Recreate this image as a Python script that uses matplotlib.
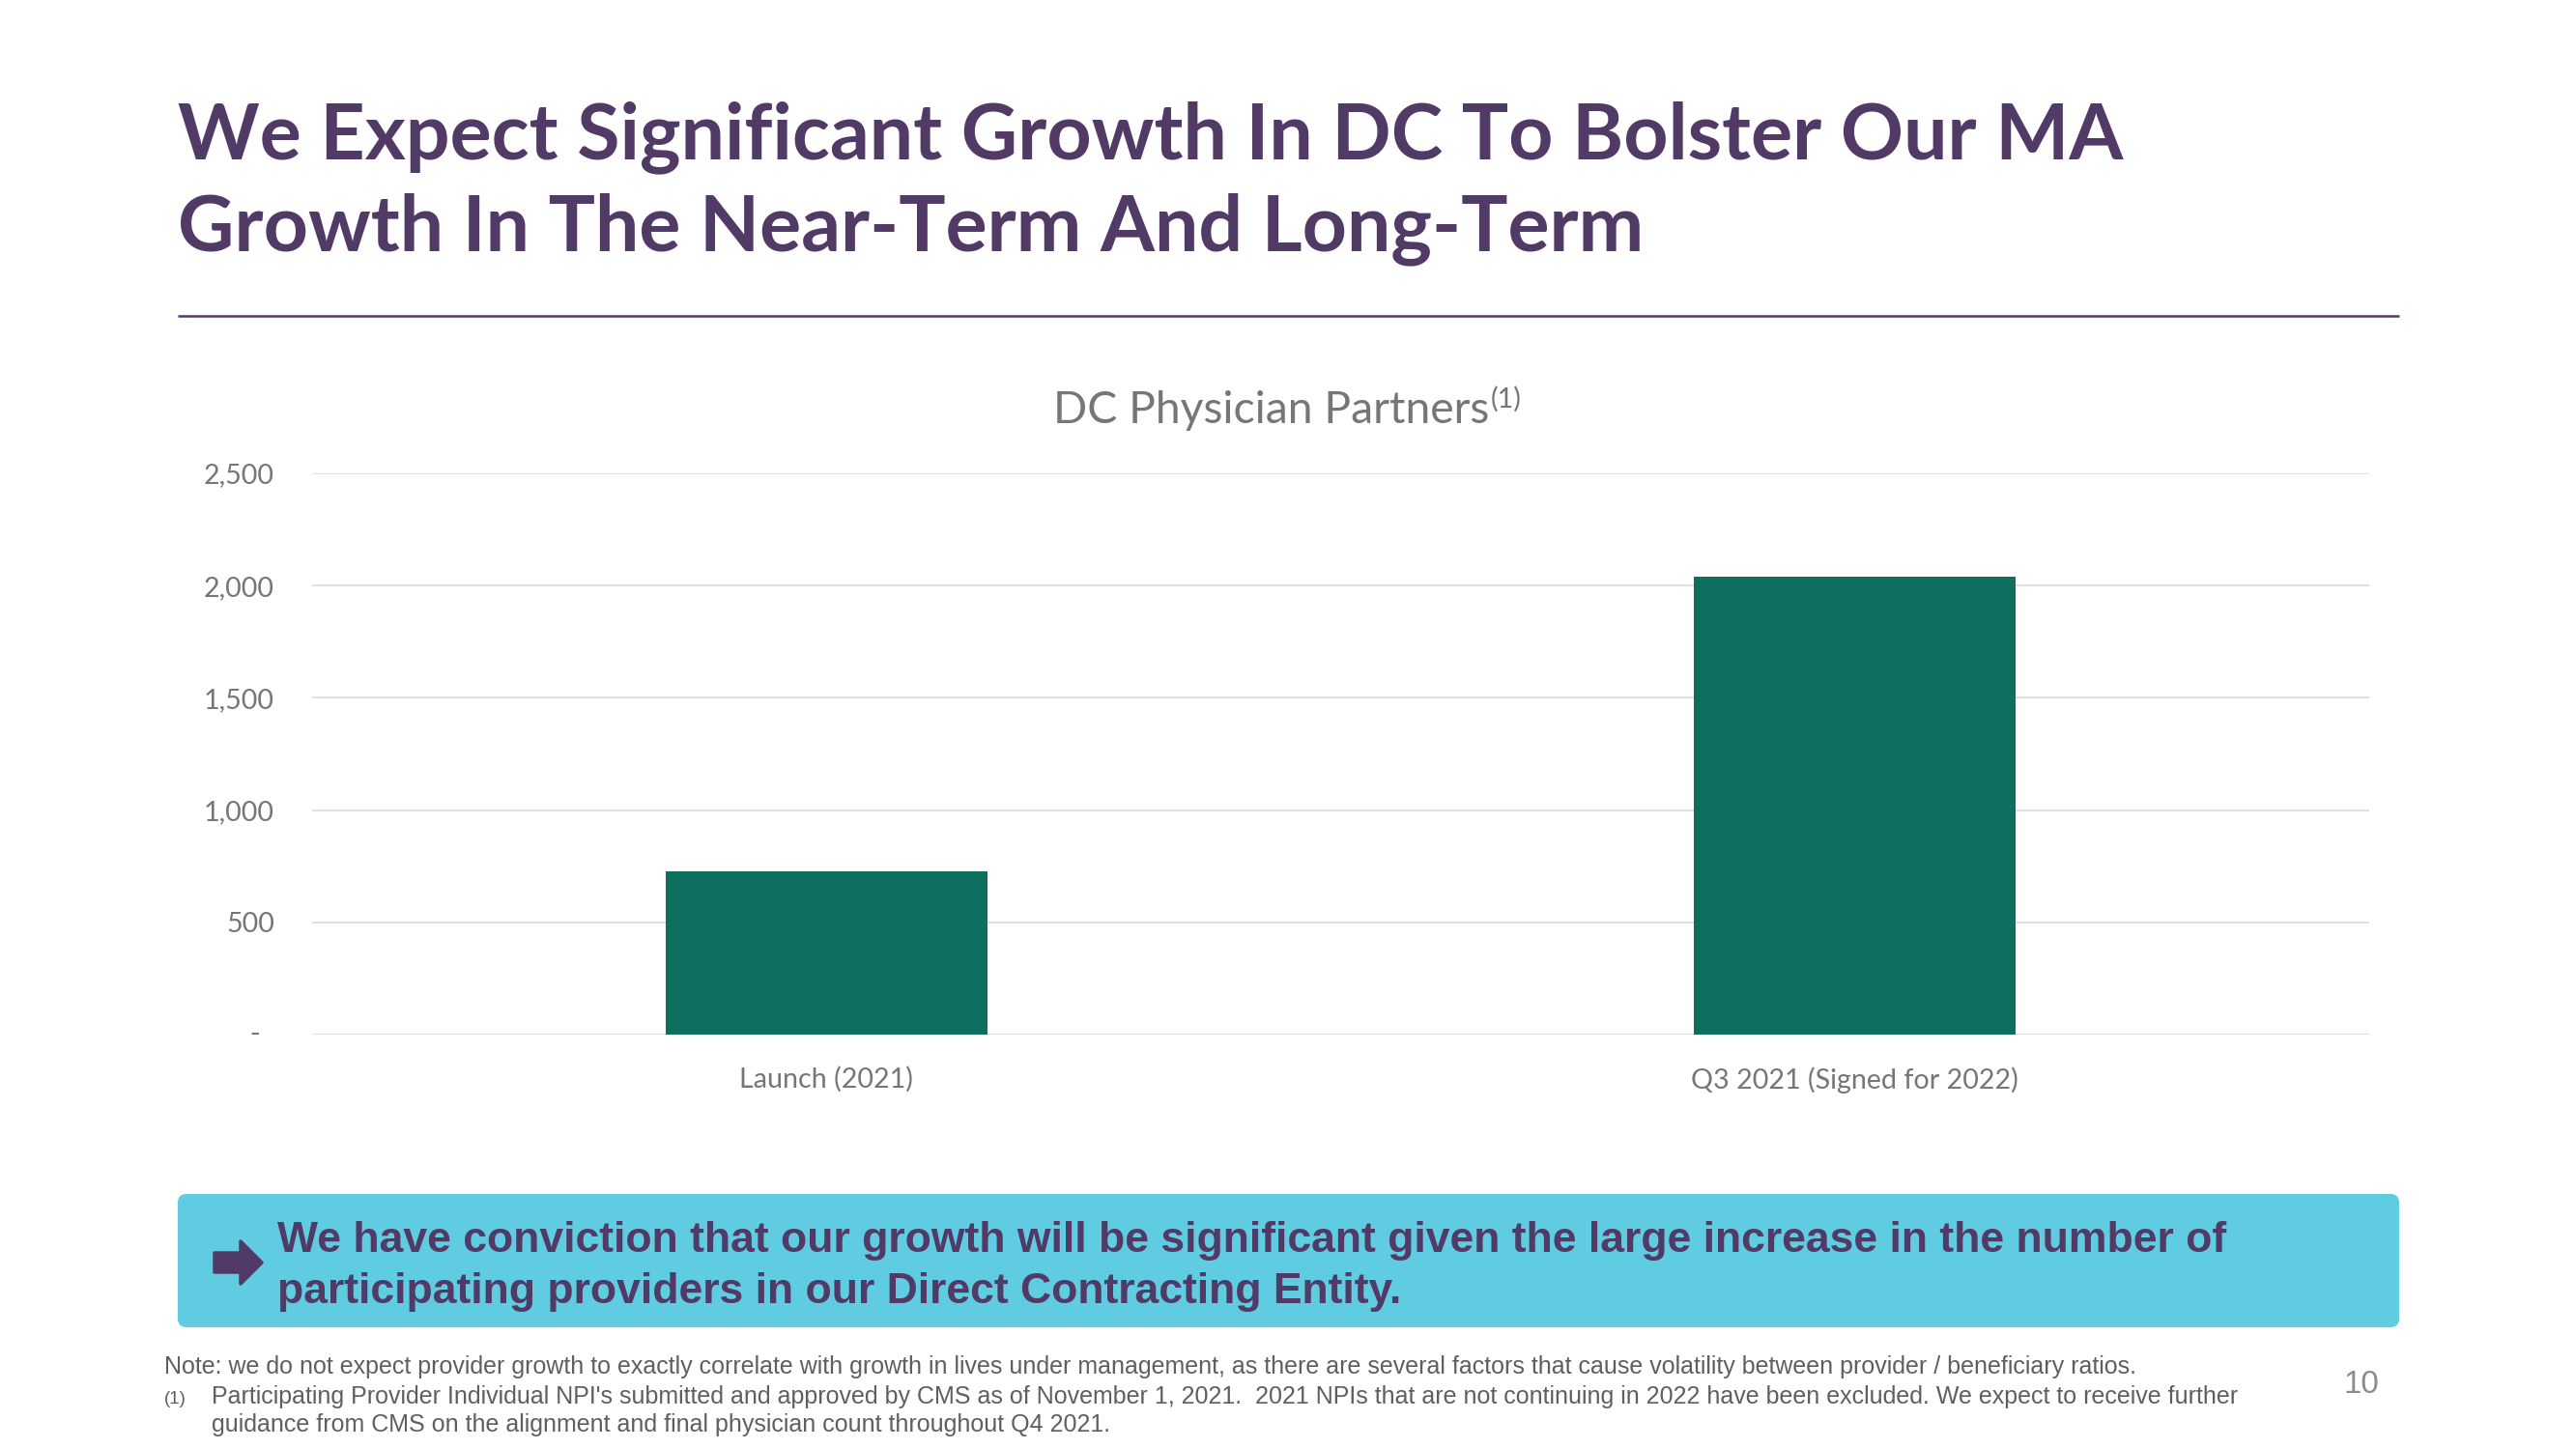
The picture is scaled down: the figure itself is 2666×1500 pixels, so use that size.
import matplotlib
matplotlib.use("Agg")
import matplotlib.pyplot as plt
from matplotlib.patches import FancyBboxPatch, Polygon
from matplotlib.ticker import FixedLocator, FuncFormatter

# ---------------- data ----------------
categories = ["Launch (2021)", "Q3 2021 (Signed for 2022)"]
physicians = [726, 2041]
yticks = [0, 500, 1000, 1500, 2000, 2500]

title_lines = ["We Expect Significant Growth In DC To Bolster Our MA",
               "Growth In The Near-Term And Long-Term"]
chart_title = "DC Physician Partners"
chart_title_sup = "(1)"
callout_lines = ["We have conviction that our growth will be significant given the large increase in the number of",
                 "participating providers in our Direct Contracting Entity."]
note_line = ("Note: we do not expect provider growth to exactly correlate with growth in lives under management, "
             "as there are several factors that cause volatility between provider / beneficiary ratios.")
foot_marker = "(1)"
foot_lines = ["Participating Provider Individual NPI's submitted and approved by CMS as of November 1, 2021.  "
              "2021 NPIs that are not continuing in 2022 have been excluded. We expect to receive further",
              "guidance from CMS on the alignment and final physician count throughout Q4 2021."]
page_number = "10"

# ---------------- style ----------------
PURPLE = "#523A66"
BAR = "#0E6F5F"
GRID = "#D9D9D9"
TICK = "#767676"
BOX = "#60CCE1"
FOOT = "#5F5F5F"

W, H = 2666, 1500
fig = plt.figure(figsize=(W / 100, H / 100), dpi=100)
fig.patch.set_facecolor("white")
renderer = fig.canvas.get_renderer()

# overlay axes in pixel coordinates (y downward)
ov = fig.add_axes([0, 0, 1, 1], zorder=0)
ov.set_xlim(0, W)
ov.set_ylim(H, 0)
ov.axis("off")
ov.patch.set_visible(False)


def fit(t, target_w):
    w = t.get_window_extent(renderer).width
    t.set_fontsize(t.get_fontsize() * target_w / w)
    return t


def measure_size(s, target_w, **kw):
    t = ov.text(0, 0, s, fontsize=20, **kw)
    w = t.get_window_extent(renderer).width
    t.remove()
    return 20 * target_w / w


# ---------------- title ----------------
t1 = ov.text(184, 164, title_lines[0], ha="left", va="baseline", color=PURPLE,
             fontfamily="Lato", fontweight="bold", fontsize=60)
fit(t1, 2015)
ov.text(184, 259, title_lines[1], ha="left", va="baseline", color=PURPLE,
        fontfamily="Lato", fontweight="bold", fontsize=t1.get_fontsize())
ov.plot([184, 2483], [327, 327], color=PURPLE, lw=1.8, solid_capstyle="butt")

# ---------------- chart title ----------------
ct = ov.text(1090, 438, chart_title, ha="left", va="baseline", color=TICK,
             fontfamily="Lato", fontsize=30)
fit(ct, 452)
bb = ct.get_window_extent(renderer)
ctsize = ct.get_fontsize()
ov.text(bb.x1 + 2, 438 - ctsize * 100 / 72 * 0.36, chart_title_sup, ha="left", va="baseline",
        color=TICK, fontfamily="Lato", fontsize=ctsize * 0.62)

# ---------------- chart ----------------
left, right, top, bottom = 323, 2452, 490, 1071
ax = fig.add_axes([left / W, 1 - bottom / H, (right - left) / W, (bottom - top) / H], zorder=2)
ax.patch.set_alpha(0)
x = list(range(len(categories)))
ax.bar(x, physicians, width=0.313, color=BAR, zorder=3)
ax.set_xlim(-0.5, len(categories) - 0.5)
ax.set_ylim(yticks[0], yticks[-1])
ax.yaxis.set_major_locator(FixedLocator(yticks))
ax.yaxis.set_major_formatter(FuncFormatter(lambda v, p: "" if v == 0 else f"{int(v):,}"))
ax.grid(axis="y", color=GRID, lw=1.2, zorder=0)
ax.set_axisbelow(True)
for s in ax.spines.values():
    s.set_visible(False)

tick_size = measure_size("2,500", 73, fontfamily="Lato")
ax.tick_params(axis="y", length=0, pad=39 * 0.72, labelsize=tick_size, labelcolor=TICK)
ax.tick_params(axis="x", length=0, pad=33 * 0.72, labelsize=tick_size, labelcolor=TICK)
ax.set_xticks(x)
ax.set_xticklabels(categories)
for lbl in ax.get_xticklabels() + ax.get_yticklabels():
    lbl.set_fontfamily("Lato")
ax.annotate("-", xy=(0, 0), xycoords=("axes fraction", "data"), xytext=(-54 * 0.72, 0),
            textcoords="offset points", ha="right", va="center", color=TICK,
            fontfamily="Lato", fontsize=tick_size, annotation_clip=False)

# ---------------- callout ----------------
box = FancyBboxPatch((184 + 8, 1236 + 8), 2483 - 184 - 16, 1374 - 1236 - 16,
                     boxstyle="round,pad=8,rounding_size=9", fc=BOX, ec="none", zorder=1)
ov.add_patch(box)
arrow = Polygon([(222, 1297), (249, 1297), (249, 1285), (271, 1307), (249, 1329),
                 (249, 1317), (222, 1317)], closed=True, fc=PURPLE, ec=PURPLE,
                lw=2.5, joinstyle="round", zorder=2)
ov.add_patch(arrow)
c1 = ov.text(287, 1296, callout_lines[0], ha="left", va="baseline", color=PURPLE,
             fontfamily="Liberation Sans", fontweight="bold", fontsize=27, zorder=3)
fit(c1, 2017)
ov.text(287, 1349, callout_lines[1], ha="left", va="baseline", color=PURPLE,
        fontfamily="Liberation Sans", fontweight="bold", fontsize=c1.get_fontsize(), zorder=3)

# ---------------- footnotes ----------------
n1 = ov.text(170, 1422, note_line, ha="left", va="baseline", color=FOOT,
             fontfamily="Liberation Sans", fontsize=17)
fit(n1, 2047)
fs = n1.get_fontsize()
ov.text(170, 1453, foot_marker, ha="left", va="baseline", color=FOOT,
        fontfamily="Liberation Sans", fontsize=fs * 0.75)
ov.text(219, 1453, foot_lines[0], ha="left", va="baseline", color=FOOT,
        fontfamily="Liberation Sans", fontsize=fs)
ov.text(219, 1482, foot_lines[1], ha="left", va="baseline", color=FOOT,
        fontfamily="Liberation Sans", fontsize=fs)
pn = ov.text(2462, 1434, page_number, ha="right", va="center", color="#8C8C8C",
             fontfamily="Liberation Sans", fontsize=22)
fit(pn, 37)

fig.savefig("out.png", dpi=100, facecolor="white")
